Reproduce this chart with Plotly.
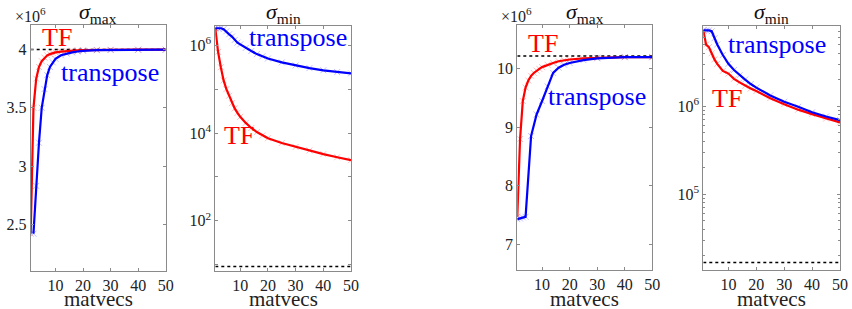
import plotly.graph_objects as go

W, H = 852, 309

# ---------- data ----------
# Panel 1: sigma_max, problem 1 (values in units of 1e6)
p1_tf_x = [1, 2, 3, 4, 5, 6, 7, 8, 9, 10, 12, 14, 16, 18, 20, 25, 30, 40, 50]
p1_tf_y = [2.42, 3.50, 3.75, 3.85, 3.90, 3.93, 3.95, 3.96, 3.97, 3.975, 3.982, 3.987, 3.99, 3.992, 3.994, 3.996, 3.997, 3.998, 3.998]
p1_tr_x = [2, 3, 4, 5, 6, 7, 8, 9, 10, 12, 14, 16, 18, 20, 25, 30, 40, 50]
p1_tr_y = [2.42, 2.83, 3.20, 3.50, 3.66, 3.78, 3.85, 3.89, 3.92, 3.95, 3.965, 3.975, 3.983, 3.988, 3.994, 3.996, 3.998, 3.998]
p1_target = 4.0

# Panel 2: sigma_min, problem 1
p2_tf_x = [1, 2, 3, 4, 5, 6, 7, 8, 9, 10, 12, 14, 16, 18, 20, 25, 30, 35, 40, 45, 50]
p2_tf_y = [2.45e6, 7.08e5, 3.16e5, 1.58e5, 1.0e5, 7.08e4, 4.79e4, 3.63e4, 2.88e4, 2.34e4,
           1.70e4, 1.30e4, 1.05e4, 8.8e3, 7.6e3, 5.9e3, 4.8e3, 4.0e3, 3.3e3, 2.8e3, 2.4e3]
p2_tr_x = [1, 2, 3, 4, 5, 6, 7, 8, 9, 10, 12, 14, 16, 18, 20, 25, 30, 35, 40, 45, 50]
p2_tr_y = [2.45e6, 2.45e6, 2.45e6, 2.34e6, 2.09e6, 1.78e6, 1.58e6, 1.32e6, 1.15e6, 1.05e6,
           8.7e5, 7.4e5, 6.3e5, 5.6e5, 5.0e5, 4.07e5, 3.47e5, 3.02e5, 2.69e5, 2.45e5, 2.29e5]
p2_target = 9.0

# Panel 3: sigma_max, problem 2 (values in units of 1e6)
p3_tf_x = [1, 2, 3, 4, 5, 6, 7, 8, 9, 10, 12, 14, 16, 18, 20, 25, 30, 40, 50]
p3_tf_y = [7.47, 8.80, 9.45, 9.68, 9.80, 9.88, 9.93, 9.97, 10.0, 10.03, 10.07, 10.10, 10.13, 10.15, 10.16, 10.18, 10.19, 10.20, 10.20]
p3_tr_x = [1, 2, 3, 4, 6, 8, 10, 12, 14, 16, 18, 20, 25, 30, 40, 50]
p3_tr_y = [7.43, 7.44, 7.46, 7.47, 8.85, 9.22, 9.45, 9.70, 9.93, 10.02, 10.07, 10.10, 10.15, 10.18, 10.20, 10.20]
p3_target = 10.22

# Panel 4: sigma_min, problem 2
p4_tf_x = [1, 2, 3, 4, 5, 6, 8, 10, 12, 14, 16, 18, 20, 25, 30, 35, 40, 45, 50]
p4_tf_y = [7.24e6, 5.0e6, 4.68e6, 3.98e6, 3.39e6, 3.02e6, 2.51e6, 2.34e6, 2.04e6, 1.86e6,
           1.70e6, 1.58e6, 1.48e6, 1.23e6, 1.05e6, 9.1e5, 8.1e5, 7.2e5, 6.5e5]
p4_tr_x = [1, 2, 3, 4, 5, 6, 8, 10, 12, 14, 16, 18, 20, 25, 30, 35, 40, 45, 50]
p4_tr_y = [7.24e6, 7.24e6, 7.24e6, 7.08e6, 5.89e6, 5.01e6, 3.8e6, 3.02e6, 2.57e6, 2.24e6,
           2.0e6, 1.78e6, 1.62e6, 1.32e6, 1.12e6, 9.8e5, 8.5e5, 7.6e5, 6.9e5]
p4_target = 1.66e4

x_ticks = [10, 20, 30, 40, 50]
x_ticktext = ["10", "20", "30", "40", "50"]
lin1_ticks = [2.5, 3, 3.5, 4]
lin1_text = ["2.5", "3", "3.5", "4"]
lin3_ticks = [7, 8, 9, 10]
lin3_text = ["7", "8", "9", "10"]

# ---------- style ----------
FONT = "Liberation Serif"
RED = "#ff0000"
BLUE = "#0000ff"
AX = "#8a8a8a"
TXT = "#222222"


def sp(t):
    return f"<span style=\"font-family:'Liberation Serif',serif\">{t}</span>" if t else t


# panel boxes in pixels: (x0, x1, ytop, ybottom)
boxes = [(30.7, 165.7, 25, 271), (215.3, 351, 26, 270.7),
         (517.3, 652.3, 25, 270), (703.3, 840, 26, 270)]

fig = go.Figure()

panels = [
    (p1_tf_x, p1_tf_y, p1_tr_x, p1_tr_y, p1_target),
    (p2_tf_x, p2_tf_y, p2_tr_x, p2_tr_y, p2_target),
    (p3_tf_x, p3_tf_y, p3_tr_x, p3_tr_y, p3_target),
    (p4_tf_x, p4_tf_y, p4_tr_x, p4_tr_y, p4_target),
]

for i, (tfx, tfy, trx, tryy, tgt) in enumerate(panels):
    n = i + 1
    xa = "x" if n == 1 else f"x{n}"
    ya = "y" if n == 1 else f"y{n}"
    fig.add_trace(go.Scatter(x=[1, 50], y=[tgt, tgt], mode="lines",
                             line=dict(color="black", width=1.5, dash="dot"),
                             xaxis=xa, yaxis=ya, showlegend=False, hoverinfo="skip"))
    fig.add_trace(go.Scatter(x=tfx, y=tfy, mode="markers",
                             marker=dict(symbol="x-thin-open", size=6, color="rgba(255,0,0,0.25)",
                                         line=dict(width=1, color="rgba(255,0,0,0.25)")),
                             xaxis=xa, yaxis=ya, showlegend=False, hoverinfo="skip"))
    fig.add_trace(go.Scatter(x=trx, y=tryy, mode="markers",
                             marker=dict(symbol="x-thin-open", size=6, color="rgba(0,0,255,0.25)",
                                         line=dict(width=1, color="rgba(0,0,255,0.25)")),
                             xaxis=xa, yaxis=ya, showlegend=False, hoverinfo="skip"))
    fig.add_trace(go.Scatter(x=tfx, y=tfy, mode="lines", line=dict(color=RED, width=2.2),
                             xaxis=xa, yaxis=ya, showlegend=False))
    fig.add_trace(go.Scatter(x=trx, y=tryy, mode="lines", line=dict(color=BLUE, width=2.2),
                             xaxis=xa, yaxis=ya, showlegend=False))

common_x = dict(range=[1, 50], tickvals=x_ticks, ticktext=[sp(t) for t in x_ticktext],
                ticks="inside", ticklen=3, tickcolor=AX,
                showline=True, linecolor=AX, linewidth=1, mirror="ticks", showgrid=False,
                zeroline=False, tickfont=dict(family=FONT, size=16, color=TXT))
common_y = dict(ticks="inside", ticklen=3, tickcolor=AX, showline=True, linecolor=AX, linewidth=1,
                mirror="ticks", showgrid=False, zeroline=False,
                tickfont=dict(family=FONT, size=16, color=TXT))

layout = {}
for i, (x0, x1, yt, yb) in enumerate(boxes):
    n = i + 1
    xk = "xaxis" if n == 1 else f"xaxis{n}"
    yk = "yaxis" if n == 1 else f"yaxis{n}"
    ya = "y" if n == 1 else f"y{n}"
    xa = "x" if n == 1 else f"x{n}"
    layout[xk] = dict(common_x, domain=[x0 / W, x1 / W], anchor=ya)
    layout[yk] = dict(common_y, domain=[(H - yb) / H, (H - yt) / H], anchor=xa)

layout["yaxis"].update(range=[2.1, 4.21], tickvals=lin1_ticks, ticktext=[sp(t) for t in lin1_text])
layout["yaxis3"].update(range=[6.56, 10.75], tickvals=lin3_ticks, ticktext=[sp(t) for t in lin3_text])
layout["yaxis2"].update(type="log", range=[0.86, 6.44],
                        tickvals=[1e1, 1e2, 1e3, 1e4, 1e5, 1e6],
                        ticktext=["", sp("10<sup>2</sup>"), "", sp("10<sup>4</sup>"), "", sp("10<sup>6</sup>")])
layout["yaxis4"].update(type="log", range=[4.136, 6.91],
                        tickvals=[1e5, 1e6],
                        ticktext=[sp("10<sup>5</sup>"), sp("10<sup>6</sup>")],
                        minor=dict(ticks="inside", ticklen=2, tickcolor=AX,
                                   tickvals=[2e4, 3e4, 4e4, 5e4, 6e4, 7e4, 8e4, 9e4,
                                             2e5, 3e5, 4e5, 5e5, 6e5, 7e5, 8e5, 9e5,
                                             2e6, 3e6, 4e6, 5e6, 6e6, 7e6]))

annotations = []
titles = ["max", "min", "max", "min"]
for i, (x0, x1, yt, yb) in enumerate(boxes):
    cx = (x0 + x1) / 2 / W
    annotations.append(dict(text=sp(f"<i>σ</i><sub>{titles[i]}</sub>"), x=cx, y=1 - 13 / H,
                            xref="paper", yref="paper", showarrow=False, xanchor="center", yanchor="middle",
                            font=dict(family=FONT, size=22, color="#111")))
    annotations.append(dict(text=sp("matvecs"), x=cx, y=1 - 299 / H,
                            xref="paper", yref="paper", showarrow=False, xanchor="center", yanchor="middle",
                            font=dict(family=FONT, size=21, color=TXT)))

for xpix in [13, 499]:
    annotations.append(dict(text=sp("×10<sup>6</sup>"), x=xpix / W, y=1 - 15 / H, xref="paper", yref="paper",
                            showarrow=False, xanchor="left", yanchor="middle",
                            font=dict(family=FONT, size=16, color=TXT)))

labels = [
    ("TF", RED, 56.7, 38), ("transpose", BLUE, 110, 72),
    ("transpose", BLUE, 297.5, 38), ("TF", RED, 238.5, 135),
    ("TF", RED, 542.5, 43), ("transpose", BLUE, 597, 97),
    ("transpose", BLUE, 776.7, 45), ("TF", RED, 726.7, 98),
]
for txt, col, xp, yp in labels:
    annotations.append(dict(text=sp(txt), x=xp / W, y=1 - yp / H, xref="paper", yref="paper",
                            showarrow=False, xanchor="center", yanchor="middle",
                            font=dict(family=FONT, size=26, color=col)))

fig.update_layout(**layout)
fig.update_layout(template="none", width=W, height=H, margin=dict(l=0, r=0, t=0, b=0),
                  paper_bgcolor="white", plot_bgcolor="white",
                  font=dict(family=FONT, color=TXT),
                  annotations=annotations, showlegend=False)

fig.write_html("out.html")
